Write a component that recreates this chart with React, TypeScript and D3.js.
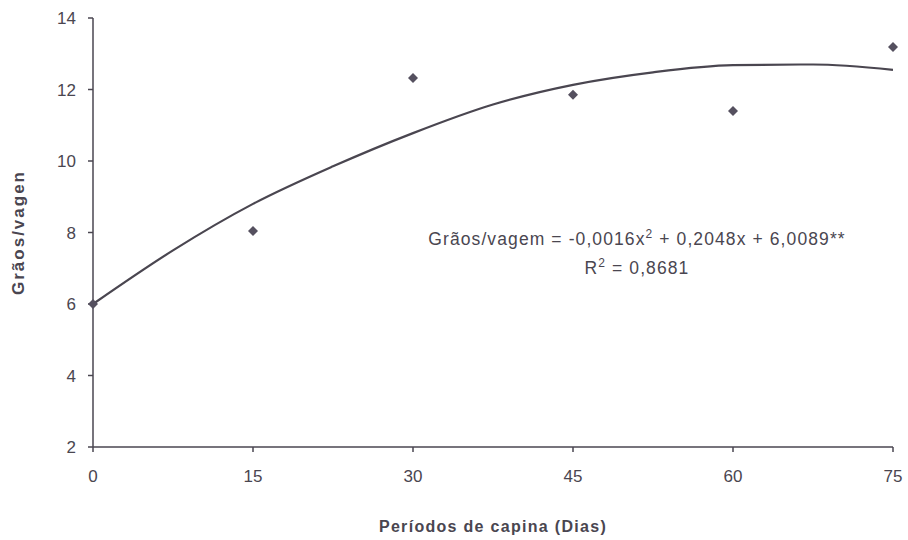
import React from 'react';
import * as d3 from 'd3';

// observed points
const dias = [0, 15, 30, 45, 60, 75];
const graos = [6.0, 8.04, 12.32, 11.85, 11.4, 13.19];

// trend line
const curveX = [0, 7.5, 15, 22.5, 30, 37.5, 45, 52.5, 60, 67.5, 75];
const curveY = [6.0, 7.5, 8.8, 9.85, 10.78, 11.58, 12.13, 12.48, 12.68, 12.7, 12.55];

const xTicks = [0, 15, 30, 45, 60, 75];
const yTicks = [2, 4, 6, 8, 10, 12, 14];

const W = 908, H = 540;
const x0 = 93, x1 = 893, y0 = 447, y1 = 18;
const ink = '#4a4650';
const font = 'Arial, "Liberation Sans", sans-serif';

export default function App() {
  const x = d3.scaleLinear().domain([0, 75]).range([x0, x1]);
  const y = d3.scaleLinear().domain([2, 14]).range([y0, y1]);

  const line = d3.line<number>()
    .x((d, i) => x(curveX[i]))
    .y(d => y(d))
    .curve(d3.curveMonotoneX);

  const marker = d3.symbol().type(d3.symbolSquare).size(50)();
  const eqX = 637;

  return (
    <svg width={W} height={H} style={{ position: 'absolute', left: 0, top: 0, background: '#fff' }}>
      <g fontFamily={font} fill={ink}>
        {/* axes */}
        <line x1={x0} x2={x0} y1={y1} y2={y0} stroke={ink} strokeWidth={1.5} />
        <line x1={x0} x2={x1} y1={y0} y2={y0} stroke={ink} strokeWidth={1.5} />
        {yTicks.map(t => (
          <g key={'y' + t}>
            <line x1={x0 - 5} x2={x0} y1={y(t)} y2={y(t)} stroke={ink} strokeWidth={1.5} />
            <text x={x0 - 17} y={y(t)} dy="0.36em" textAnchor="end" fontSize={17}>{t}</text>
          </g>
        ))}
        {xTicks.map(t => (
          <g key={'x' + t}>
            <line x1={x(t)} x2={x(t)} y1={y0} y2={y0 + 5} stroke={ink} strokeWidth={1.5} />
            <text x={x(t)} y={y0 + 35} textAnchor="middle" fontSize={17}>{t}</text>
          </g>
        ))}

        {/* trend */}
        <path d={line(curveY) || ''} fill="none" stroke={ink} strokeWidth={2.2} />

        {/* points */}
        {dias.map((d, i) => (
          <path key={d} d={marker || ''} transform={`translate(${x(d)},${y(graos[i])}) rotate(45)`} fill="#55505f" />
        ))}

        {/* equation */}
        <text x={eqX} y={245} fontSize={17.5} textAnchor="middle" letterSpacing={1.1}>
          Grãos/vagem = -0,0016x<tspan dy={-7} fontSize={12}>2</tspan>
          <tspan dy={7}> + 0,2048x + 6,0089**</tspan>
        </text>
        <text x={eqX} y={274} fontSize={17.5} textAnchor="middle" letterSpacing={1.1}>
          R<tspan dy={-7} fontSize={12}>2</tspan><tspan dy={7}> = 0,8681</tspan>
        </text>

        {/* axis titles */}
        <text transform={`translate(24,${(y0 + y1) / 2}) rotate(-90)`} textAnchor="middle"
          fontSize={17} fontWeight="bold" letterSpacing={2}>Grãos/vagen</text>
        <text x={(x0 + x1) / 2} y={532} textAnchor="middle" fontSize={16} fontWeight="bold" letterSpacing={1.3}>
          Períodos de capina (Dias)
        </text>
      </g>
    </svg>
  );
}
